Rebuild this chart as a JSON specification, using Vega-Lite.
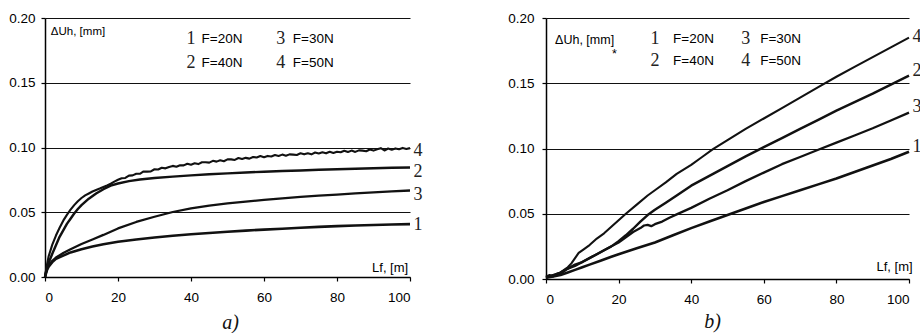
{
  "$schema": "https://vega.github.io/schema/vega-lite/v6.json",
  "padding": {"left": 8, "top": 11, "right": 0, "bottom": 0},
  "spacing": 84,
  "config": {
    "view": {"stroke": null},
    "font": "Liberation Sans",
    "axis": {
      "domainColor": "black", "domainWidth": 1.5, "tickColor": "black", "tickWidth": 1.2, "tickSize": 4,
      "labelColor": "#000", "labelFont": "Liberation Sans", "labelFontSize": 13.5, "title": null
    },
    "title": {"font": "Liberation Serif", "fontStyle": "italic", "fontWeight": "normal", "fontSize": 20, "color": "#111", "orient": "bottom"}
  },
  "datasets": {
    "curvesA": [
      {"x":0,"y":0,"s":"1"},{"x":0.5,"y":0.005,"s":"1"},{"x":1,"y":0.008,"s":"1"},{"x":2,"y":0.0115,"s":"1"},{"x":3,"y":0.014,"s":"1"},{"x":5,"y":0.0165,"s":"1"},{"x":7,"y":0.019,"s":"1"},{"x":10,"y":0.0215,"s":"1"},{"x":13,"y":0.0235,"s":"1"},{"x":16,"y":0.0253,"s":"1"},{"x":20,"y":0.0272,"s":"1"},{"x":25,"y":0.029,"s":"1"},{"x":30,"y":0.0305,"s":"1"},{"x":35,"y":0.0318,"s":"1"},{"x":40,"y":0.033,"s":"1"},{"x":45,"y":0.034,"s":"1"},{"x":50,"y":0.035,"s":"1"},{"x":55,"y":0.0358,"s":"1"},{"x":60,"y":0.0366,"s":"1"},{"x":65,"y":0.0373,"s":"1"},{"x":70,"y":0.038,"s":"1"},{"x":75,"y":0.0387,"s":"1"},{"x":80,"y":0.0393,"s":"1"},{"x":85,"y":0.0398,"s":"1"},{"x":90,"y":0.0402,"s":"1"},{"x":95,"y":0.0405,"s":"1"},{"x":100,"y":0.0408,"s":"1"},
      {"x":0,"y":0,"s":"3"},{"x":0.5,"y":0.006,"s":"3"},{"x":1,"y":0.009,"s":"3"},{"x":2,"y":0.0125,"s":"3"},{"x":3,"y":0.015,"s":"3"},{"x":5,"y":0.0185,"s":"3"},{"x":7,"y":0.0215,"s":"3"},{"x":10,"y":0.0255,"s":"3"},{"x":13,"y":0.029,"s":"3"},{"x":16,"y":0.0325,"s":"3"},{"x":20,"y":0.0375,"s":"3"},{"x":25,"y":0.0425,"s":"3"},{"x":30,"y":0.0465,"s":"3"},{"x":35,"y":0.0502,"s":"3"},{"x":40,"y":0.053,"s":"3"},{"x":45,"y":0.0552,"s":"3"},{"x":50,"y":0.0568,"s":"3"},{"x":55,"y":0.0582,"s":"3"},{"x":60,"y":0.0595,"s":"3"},{"x":65,"y":0.0607,"s":"3"},{"x":70,"y":0.0618,"s":"3"},{"x":75,"y":0.0628,"s":"3"},{"x":80,"y":0.0637,"s":"3"},{"x":85,"y":0.0646,"s":"3"},{"x":90,"y":0.0654,"s":"3"},{"x":95,"y":0.0661,"s":"3"},{"x":100,"y":0.0668,"s":"3"},
      {"x":0,"y":0,"s":"2"},{"x":0.5,"y":0.007,"s":"2"},{"x":1,"y":0.011,"s":"2"},{"x":2,"y":0.018,"s":"2"},{"x":3,"y":0.0245,"s":"2"},{"x":4,"y":0.031,"s":"2"},{"x":5,"y":0.036,"s":"2"},{"x":6,"y":0.041,"s":"2"},{"x":7,"y":0.045,"s":"2"},{"x":8,"y":0.049,"s":"2"},{"x":9,"y":0.0525,"s":"2"},{"x":10,"y":0.0555,"s":"2"},{"x":12,"y":0.0605,"s":"2"},{"x":14,"y":0.0645,"s":"2"},{"x":16,"y":0.0678,"s":"2"},{"x":18,"y":0.0705,"s":"2"},{"x":20,"y":0.0722,"s":"2"},{"x":23,"y":0.074,"s":"2"},{"x":26,"y":0.0753,"s":"2"},{"x":30,"y":0.0765,"s":"2"},{"x":35,"y":0.0775,"s":"2"},{"x":40,"y":0.0785,"s":"2"},{"x":45,"y":0.0793,"s":"2"},{"x":50,"y":0.08,"s":"2"},{"x":55,"y":0.0807,"s":"2"},{"x":60,"y":0.0813,"s":"2"},{"x":65,"y":0.0818,"s":"2"},{"x":70,"y":0.0823,"s":"2"},{"x":75,"y":0.0828,"s":"2"},{"x":80,"y":0.0832,"s":"2"},{"x":85,"y":0.0836,"s":"2"},{"x":90,"y":0.084,"s":"2"},{"x":95,"y":0.0843,"s":"2"},{"x":100,"y":0.0846,"s":"2"},
      {"x":0,"y":0,"s":"4"},{"x":0.5,"y":0.009,"s":"4"},{"x":1,"y":0.016,"s":"4"},{"x":2,"y":0.025,"s":"4"},{"x":3,"y":0.032,"s":"4"},{"x":4,"y":0.038,"s":"4"},{"x":5,"y":0.0435,"s":"4"},{"x":6,"y":0.048,"s":"4"},{"x":7,"y":0.052,"s":"4"},{"x":8,"y":0.0555,"s":"4"},{"x":9,"y":0.0585,"s":"4"},{"x":10,"y":0.061,"s":"4"},{"x":11,"y":0.063,"s":"4"},{"x":12,"y":0.0645,"s":"4"},{"x":13,"y":0.066,"s":"4"},{"x":14,"y":0.0672,"s":"4"},{"x":15,"y":0.0683,"s":"4"},{"x":16,"y":0.0695,"s":"4"},{"x":17,"y":0.0707,"s":"4"},{"x":18,"y":0.072,"s":"4"},{"x":19,"y":0.0736,"s":"4"},
      {"x":20,"y":0.0751,"s":"4"},{"x":21,"y":0.0763,"s":"4"},{"x":22,"y":0.0765,"s":"4"},{"x":23,"y":0.0783,"s":"4"},{"x":24,"y":0.0785,"s":"4"},{"x":25,"y":0.0797,"s":"4"},{"x":26,"y":0.0797,"s":"4"},{"x":27,"y":0.0815,"s":"4"},{"x":28,"y":0.0814,"s":"4"},{"x":29,"y":0.0815,"s":"4"},{"x":30,"y":0.0832,"s":"4"},{"x":31,"y":0.083,"s":"4"},{"x":32,"y":0.0844,"s":"4"},{"x":33,"y":0.0839,"s":"4"},{"x":34,"y":0.085,"s":"4"},{"x":35,"y":0.0858,"s":"4"},{"x":36,"y":0.0851,"s":"4"},{"x":37,"y":0.0863,"s":"4"},{"x":38,"y":0.0862,"s":"4"},{"x":39,"y":0.0875,"s":"4"},{"x":40,"y":0.0867,"s":"4"},{"x":41,"y":0.0878,"s":"4"},{"x":42,"y":0.0872,"s":"4"},{"x":43,"y":0.0886,"s":"4"},{"x":44,"y":0.0886,"s":"4"},{"x":45,"y":0.0883,"s":"4"},{"x":46,"y":0.0897,"s":"4"},{"x":47,"y":0.0891,"s":"4"},{"x":48,"y":0.0901,"s":"4"},{"x":49,"y":0.0894,"s":"4"},{"x":50,"y":0.0908,"s":"4"},{"x":51,"y":0.0908,"s":"4"},{"x":52,"y":0.0904,"s":"4"},{"x":53,"y":0.0919,"s":"4"},{"x":54,"y":0.0911,"s":"4"},{"x":55,"y":0.092,"s":"4"},{"x":56,"y":0.0914,"s":"4"},{"x":57,"y":0.0927,"s":"4"},{"x":58,"y":0.0923,"s":"4"},{"x":59,"y":0.0934,"s":"4"},{"x":60,"y":0.0925,"s":"4"},{"x":61,"y":0.0935,"s":"4"},{"x":62,"y":0.093,"s":"4"},{"x":63,"y":0.0942,"s":"4"},{"x":64,"y":0.0935,"s":"4"},{"x":65,"y":0.0945,"s":"4"},{"x":66,"y":0.0936,"s":"4"},{"x":67,"y":0.0947,"s":"4"},{"x":68,"y":0.0945,"s":"4"},{"x":69,"y":0.0942,"s":"4"},{"x":70,"y":0.0955,"s":"4"},{"x":71,"y":0.0947,"s":"4"},{"x":72,"y":0.0955,"s":"4"},{"x":73,"y":0.0947,"s":"4"},{"x":74,"y":0.0961,"s":"4"},{"x":75,"y":0.0954,"s":"4"},{"x":76,"y":0.0963,"s":"4"},{"x":77,"y":0.0955,"s":"4"},{"x":78,"y":0.0967,"s":"4"},{"x":79,"y":0.0958,"s":"4"},{"x":80,"y":0.0967,"s":"4"},{"x":81,"y":0.0963,"s":"4"},{"x":82,"y":0.0975,"s":"4"},{"x":83,"y":0.0965,"s":"4"},{"x":84,"y":0.0976,"s":"4"},{"x":85,"y":0.0966,"s":"4"},{"x":86,"y":0.0978,"s":"4"},{"x":87,"y":0.0976,"s":"4"},{"x":88,"y":0.0971,"s":"4"},{"x":89,"y":0.0985,"s":"4"},{"x":90,"y":0.0976,"s":"4"},{"x":91,"y":0.0987,"s":"4"},{"x":92,"y":0.0995,"s":"4"},{"x":93,"y":0.0977,"s":"4"},{"x":94,"y":0.0992,"s":"4"},{"x":95,"y":0.0983,"s":"4"},{"x":96,"y":0.0993,"s":"4"},{"x":97,"y":0.0987,"s":"4"},{"x":98,"y":0.0997,"s":"4"},{"x":99,"y":0.0989,"s":"4"},{"x":100,"y":0.0995,"s":"4"}
    ],
    "curvesB": [
      {"x":0,"y":0.002,"s":"4"},{"x":1,"y":0.003,"s":"4"},{"x":2,"y":0.002,"s":"4"},{"x":3,"y":0.004,"s":"4"},{"x":4,"y":0.005,"s":"4"},{"x":5,"y":0.007,"s":"4"},{"x":6,"y":0.009,"s":"4"},{"x":7,"y":0.012,"s":"4"},{"x":8,"y":0.016,"s":"4"},{"x":9,"y":0.02,"s":"4"},{"x":10,"y":0.022,"s":"4"},{"x":12,"y":0.026,"s":"4"},{"x":14,"y":0.031,"s":"4"},{"x":16,"y":0.035,"s":"4"},{"x":18,"y":0.04,"s":"4"},{"x":20,"y":0.045,"s":"4"},{"x":22,"y":0.05,"s":"4"},{"x":25,"y":0.057,"s":"4"},{"x":28,"y":0.064,"s":"4"},{"x":30,"y":0.068,"s":"4"},{"x":33,"y":0.074,"s":"4"},{"x":36,"y":0.0805,"s":"4"},{"x":40,"y":0.0875,"s":"4"},{"x":43,"y":0.0935,"s":"4"},{"x":46,"y":0.0995,"s":"4"},{"x":50,"y":0.1065,"s":"4"},{"x":55,"y":0.115,"s":"4"},{"x":60,"y":0.123,"s":"4"},{"x":65,"y":0.131,"s":"4"},{"x":70,"y":0.139,"s":"4"},{"x":75,"y":0.147,"s":"4"},{"x":80,"y":0.155,"s":"4"},{"x":85,"y":0.1625,"s":"4"},{"x":90,"y":0.17,"s":"4"},{"x":95,"y":0.1775,"s":"4"},{"x":100,"y":0.185,"s":"4"},
      {"x":0,"y":0.001,"s":"2"},{"x":2,"y":0.003,"s":"2"},{"x":4,"y":0.004,"s":"2"},{"x":6,"y":0.008,"s":"2"},{"x":8,"y":0.011,"s":"2"},{"x":10,"y":0.013,"s":"2"},{"x":12,"y":0.016,"s":"2"},{"x":14,"y":0.019,"s":"2"},{"x":16,"y":0.022,"s":"2"},{"x":18,"y":0.025,"s":"2"},{"x":20,"y":0.029,"s":"2"},{"x":22,"y":0.0335,"s":"2"},{"x":24,"y":0.0385,"s":"2"},{"x":26,"y":0.044,"s":"2"},{"x":28,"y":0.049,"s":"2"},{"x":30,"y":0.053,"s":"2"},{"x":33,"y":0.0585,"s":"2"},{"x":36,"y":0.064,"s":"2"},{"x":40,"y":0.0715,"s":"2"},{"x":45,"y":0.079,"s":"2"},{"x":50,"y":0.0865,"s":"2"},{"x":55,"y":0.094,"s":"2"},{"x":60,"y":0.101,"s":"2"},{"x":65,"y":0.108,"s":"2"},{"x":70,"y":0.115,"s":"2"},{"x":75,"y":0.122,"s":"2"},{"x":80,"y":0.129,"s":"2"},{"x":85,"y":0.1355,"s":"2"},{"x":90,"y":0.142,"s":"2"},{"x":95,"y":0.149,"s":"2"},{"x":100,"y":0.1558,"s":"2"},
      {"x":0,"y":0.001,"s":"3"},{"x":2,"y":0.003,"s":"3"},{"x":4,"y":0.005,"s":"3"},{"x":6,"y":0.008,"s":"3"},{"x":8,"y":0.01,"s":"3"},{"x":10,"y":0.013,"s":"3"},{"x":12,"y":0.016,"s":"3"},{"x":14,"y":0.019,"s":"3"},{"x":16,"y":0.022,"s":"3"},{"x":18,"y":0.025,"s":"3"},{"x":20,"y":0.028,"s":"3"},{"x":22,"y":0.032,"s":"3"},{"x":24,"y":0.036,"s":"3"},{"x":26,"y":0.039,"s":"3"},{"x":27,"y":0.041,"s":"3"},{"x":28,"y":0.0415,"s":"3"},{"x":29,"y":0.0405,"s":"3"},{"x":30,"y":0.042,"s":"3"},{"x":32,"y":0.044,"s":"3"},{"x":34,"y":0.047,"s":"3"},{"x":36,"y":0.0495,"s":"3"},{"x":38,"y":0.052,"s":"3"},{"x":40,"y":0.0545,"s":"3"},{"x":45,"y":0.0615,"s":"3"},{"x":50,"y":0.068,"s":"3"},{"x":55,"y":0.075,"s":"3"},{"x":60,"y":0.0815,"s":"3"},{"x":65,"y":0.088,"s":"3"},{"x":70,"y":0.0935,"s":"3"},{"x":75,"y":0.099,"s":"3"},{"x":80,"y":0.1045,"s":"3"},{"x":85,"y":0.11,"s":"3"},{"x":90,"y":0.1155,"s":"3"},{"x":95,"y":0.1215,"s":"3"},{"x":100,"y":0.1275,"s":"3"},
      {"x":0,"y":0.001,"s":"1"},{"x":2,"y":0.002,"s":"1"},{"x":4,"y":0.003,"s":"1"},{"x":6,"y":0.005,"s":"1"},{"x":8,"y":0.007,"s":"1"},{"x":10,"y":0.009,"s":"1"},{"x":12,"y":0.011,"s":"1"},{"x":15,"y":0.014,"s":"1"},{"x":18,"y":0.017,"s":"1"},{"x":20,"y":0.019,"s":"1"},{"x":25,"y":0.0235,"s":"1"},{"x":30,"y":0.028,"s":"1"},{"x":35,"y":0.0335,"s":"1"},{"x":40,"y":0.039,"s":"1"},{"x":45,"y":0.044,"s":"1"},{"x":50,"y":0.049,"s":"1"},{"x":55,"y":0.054,"s":"1"},{"x":60,"y":0.059,"s":"1"},{"x":65,"y":0.0635,"s":"1"},{"x":70,"y":0.068,"s":"1"},{"x":75,"y":0.0725,"s":"1"},{"x":80,"y":0.077,"s":"1"},{"x":85,"y":0.082,"s":"1"},{"x":90,"y":0.087,"s":"1"},{"x":95,"y":0.092,"s":"1"},{"x":100,"y":0.0975,"s":"1"}
    ],
    "endA": [{"x":100,"y":0.0975,"t":"4"},{"x":100,"y":0.0813,"t":"2"},{"x":100,"y":0.0633,"t":"3"},{"x":100,"y":0.0402,"t":"1"}],
    "endB": [{"x":100,"y":0.1857,"t":"4"},{"x":100,"y":0.1596,"t":"2"},{"x":100,"y":0.1318,"t":"3"},{"x":100,"y":0.1014,"t":"1"}],
    "numA": [{"x":40,"y":0.1838,"t":"1"},{"x":64.6,"y":0.1838,"t":"3"},{"x":40,"y":0.165,"t":"2"},{"x":64.6,"y":0.165,"t":"4"}],
    "fA": [{"x":42.9,"y":0.1838,"t":"F=20N"},{"x":67.9,"y":0.1838,"t":"F=30N"},{"x":42.9,"y":0.165,"t":"F=40N"},{"x":67.9,"y":0.165,"t":"F=50N"}],
    "numB": [{"x":30,"y":0.1839,"t":"1"},{"x":55,"y":0.1839,"t":"3"},{"x":30,"y":0.167,"t":"2"},{"x":55,"y":0.167,"t":"4"}],
    "fB": [{"x":35,"y":0.1839,"t":"F=20N"},{"x":59,"y":0.1839,"t":"F=30N"},{"x":35,"y":0.167,"t":"F=40N"},{"x":59,"y":0.167,"t":"F=50N"}],
    "ylabA": [{"x":1.6,"y":0.1892,"t":"ΔUh, [mm]"}],
    "ylabB": [{"x":2.5,"y":0.1831,"t":"ΔUh, [mm]"},{"x":18.2,"y":0.1724,"t":"*"}],
    "xlabA": [{"x":99.5,"y":0.007,"t":"Lf, [m]"}],
    "xlabB": [{"x":101,"y":0.0092,"t":"Lf, [m]"}]
  },
  "hconcat": [
    {
      "width": 365, "height": 259,
      "title": {"text": "a)", "dx": 3, "offset": 9},
      "encoding": {
        "x": {"field": "x", "type": "quantitative", "scale": {"domain": [0, 100]}, "axis": {"values": [0,20,40,60,80,100], "grid": false, "labelPadding": 9}},
        "y": {"field": "y", "type": "quantitative", "scale": {"domain": [0, 0.2]}, "axis": {"values": [0,0.05,0.1,0.15,0.2], "format": ".2f", "grid": true, "gridColor": "#111", "gridWidth": 1, "gridOpacity": 1, "labelPadding": 6}}
      },
      "layer": [
        {"data": {"name": "curvesA"}, "mark": {"type": "line", "color": "#111", "strokeJoin": "round"},
         "encoding": {"detail": {"field": "s"}, "strokeWidth": {"field": "s", "type": "nominal", "scale": {"domain": ["1","2","3","4"], "range": [2.6, 2.1, 2.6, 1.5]}, "legend": null}}},
        {"data": {"name": "endA"}, "mark": {"type": "text", "font": "Liberation Serif", "fontSize": 18, "color": "#222", "align": "center", "baseline": "middle", "dx": 8}, "encoding": {"text": {"field": "t"}}},
        {"data": {"name": "numA"}, "mark": {"type": "text", "font": "Liberation Serif", "fontSize": 18, "color": "#222", "align": "center", "baseline": "middle"}, "encoding": {"text": {"field": "t"}}},
        {"data": {"name": "fA"}, "mark": {"type": "text", "font": "Liberation Sans", "fontSize": 13.5, "color": "#000", "align": "left", "baseline": "middle"}, "encoding": {"text": {"field": "t"}}},
        {"data": {"name": "ylabA"}, "mark": {"type": "text", "font": "Liberation Sans", "fontSize": 11.5, "color": "#000", "align": "left", "baseline": "middle"}, "encoding": {"text": {"field": "t"}}},
        {"data": {"name": "xlabA"}, "mark": {"type": "text", "font": "Liberation Sans", "fontSize": 13, "color": "#000", "align": "right", "baseline": "middle"}, "encoding": {"text": {"field": "t"}}}
      ]
    },
    {
      "width": 363, "height": 261,
      "title": {"text": "b)", "dx": -15, "offset": 6},
      "encoding": {
        "x": {"field": "x", "type": "quantitative", "scale": {"domain": [0, 100]}, "axis": {"values": [0,20,40,60,80,100], "grid": false, "labelPadding": 9}},
        "y": {"field": "y", "type": "quantitative", "scale": {"domain": [0, 0.2]}, "axis": {"values": [0,0.05,0.1,0.15,0.2], "format": ".2f", "grid": true, "gridColor": "#111", "gridWidth": 1, "gridOpacity": 1, "labelPadding": 8}}
      },
      "layer": [
        {"data": {"name": "curvesB"}, "mark": {"type": "line", "color": "#111", "strokeJoin": "round"},
         "encoding": {"detail": {"field": "s"}, "strokeWidth": {"field": "s", "type": "nominal", "scale": {"domain": ["1","2","3","4"], "range": [2.2, 1.8, 2.3, 1.7]}, "legend": null}}},
        {"data": {"name": "endB"}, "mark": {"type": "text", "font": "Liberation Serif", "fontSize": 18, "color": "#222", "align": "center", "baseline": "middle", "dx": 8}, "encoding": {"text": {"field": "t"}}},
        {"data": {"name": "numB"}, "mark": {"type": "text", "font": "Liberation Serif", "fontSize": 18, "color": "#222", "align": "center", "baseline": "middle"}, "encoding": {"text": {"field": "t"}}},
        {"data": {"name": "fB"}, "mark": {"type": "text", "font": "Liberation Sans", "fontSize": 13.5, "color": "#000", "align": "left", "baseline": "middle"}, "encoding": {"text": {"field": "t"}}},
        {"data": {"name": "ylabB"}, "mark": {"type": "text", "font": "Liberation Sans", "fontSize": 12.5, "color": "#000", "align": "left", "baseline": "middle"}, "encoding": {"text": {"field": "t"}}},
        {"data": {"name": "xlabB"}, "mark": {"type": "text", "font": "Liberation Sans", "fontSize": 13, "color": "#000", "align": "right", "baseline": "middle"}, "encoding": {"text": {"field": "t"}}}
      ]
    }
  ]
}
